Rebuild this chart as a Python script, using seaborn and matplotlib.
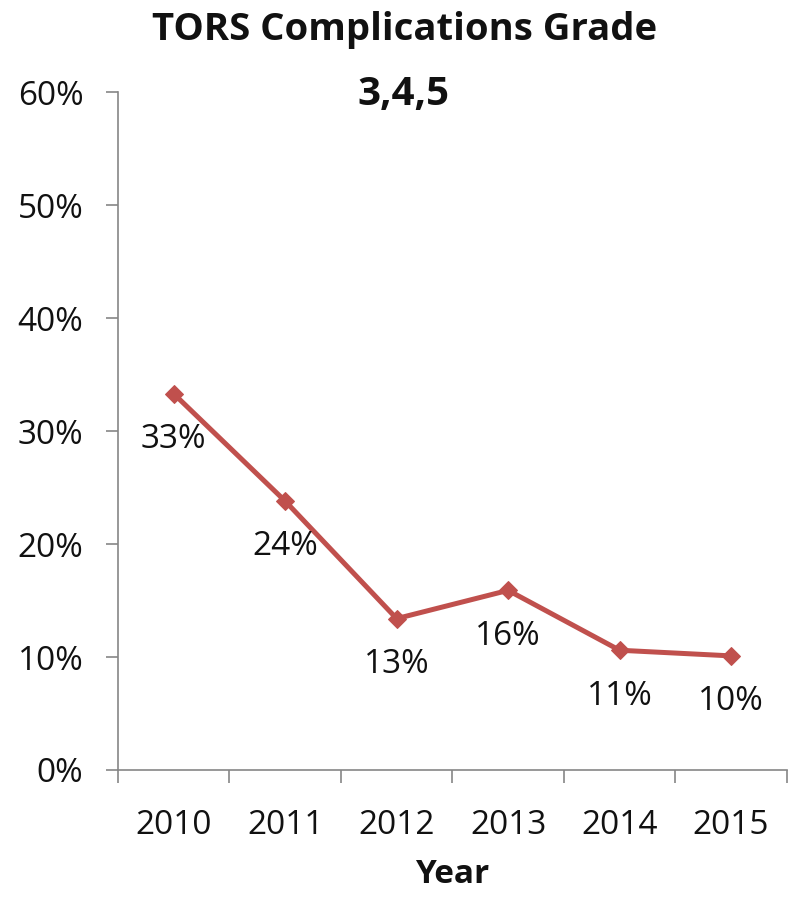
import numpy as np
import pandas as pd
import matplotlib
matplotlib.use("Agg")
import matplotlib.pyplot as plt
from matplotlib.ticker import FixedLocator, PercentFormatter
import seaborn as sns

years = [2010, 2011, 2012, 2013, 2014, 2015]
rates = [33.3, 23.8, 13.4, 15.9, 10.6, 10.1]
labels = ["33%", "24%", "13%", "16%", "11%", "10%"]
y_ticks = [0, 10, 20, 30, 40, 50, 60]


def main():
    sns.set_style("white")
    plt.rcParams['font.family'] = ['Open Sans', 'DejaVu Sans']

    df = pd.DataFrame({'year': years, 'rate': rates})

    fig = plt.figure(figsize=(8, 8.99), dpi=100)
    ax = fig.add_axes([0.1475, 0.1435, 0.836, 0.754])

    line_color = '#C0504D'
    sns.lineplot(data=df, x='year', y='rate', ax=ax, color=line_color,
                 linewidth=3.6, marker='D', markersize=9,
                 markeredgecolor=line_color)

    for yr, val, lab in zip(years, rates, labels):
        ax.annotate(lab, (yr, val), xytext=(0, -33), textcoords='offset points',
                    ha='center', va='center', fontsize=24, color='#111111')

    ax.set_xlim(years[0] - 0.5, years[-1] + 0.5)
    ax.set_ylim(0, 60)
    ax.set_yticks(y_ticks)
    ax.yaxis.set_major_formatter(PercentFormatter(decimals=0))
    ax.set_xticks(years)
    ax.set_xticklabels([str(y) for y in years])
    ax.xaxis.set_minor_locator(FixedLocator(np.arange(years[0] - 0.5, years[-1] + 1, 1)))

    gray = '#868686'
    for side in ['top', 'right']:
        ax.spines[side].set_visible(False)
    for side in ['left', 'bottom']:
        ax.spines[side].set_color(gray)
        ax.spines[side].set_linewidth(1.2)

    ax.tick_params(axis='y', which='major', left=True, length=9, width=1.2,
                   color=gray, pad=16, labelsize=24, labelcolor='#111111')
    ax.tick_params(axis='x', which='major', bottom=False, length=0, pad=28,
                   labelsize=24, labelcolor='#111111')
    ax.tick_params(axis='x', which='minor', bottom=True, length=9, width=1.2,
                   color=gray)

    ax.set_ylabel('')
    ax.set_xlabel('Year', fontsize=24, fontweight='bold', color='#111111')
    ax.xaxis.set_label_coords(0.5, -0.13)
    ax.xaxis.label.set_va('top')

    fig.text(405 / 800, 1 - 30 / 899, 'TORS Complications Grade', ha='center',
             va='center', fontsize=27.5, fontweight='bold', color='#111111')
    fig.text(403 / 800, 1 - 95 / 899, '3,4,5', ha='center', va='center',
             fontsize=29, fontweight='bold', color='#111111')

    fig.savefig('out.png', dpi=100)


main()
